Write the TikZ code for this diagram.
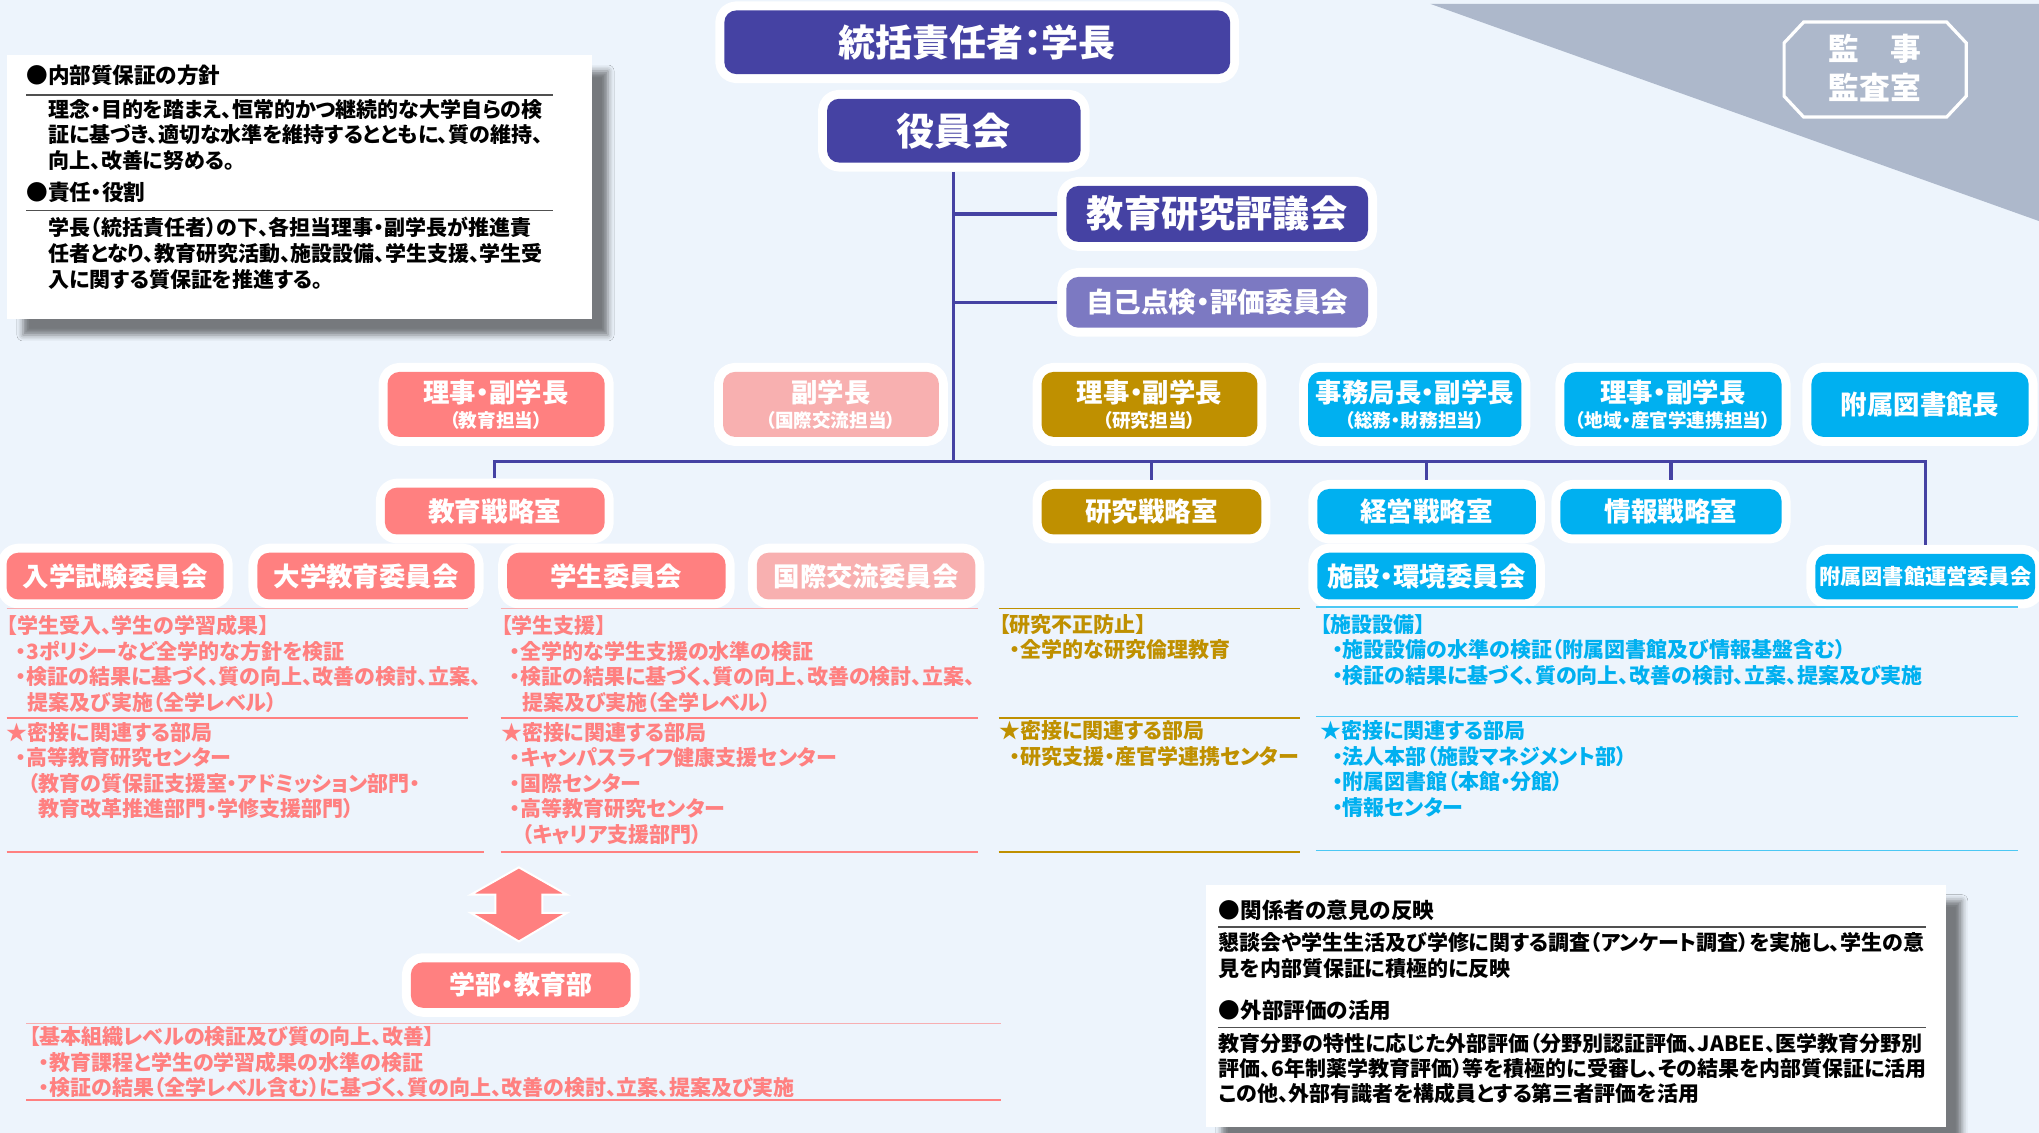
\documentclass[tikz,border=0pt]{standalone}
\usepackage{fontspec}
\setmainfont{Noto Sans CJK JP}[RawFeature=+palt]
\usetikzlibrary{shadows.blur}
\definecolor{bgc}{HTML}{EDF4FC}
\definecolor{purp}{HTML}{4542A3}
\definecolor{lpurp}{HTML}{7C79C2}
\definecolor{salm}{HTML}{FF8080}
\definecolor{lpink}{HTML}{F8B0B0}
\definecolor{goldc}{HTML}{BF9000}
\definecolor{cyanc}{HTML}{00B0F0}
\definecolor{tric}{HTML}{ADB8CB}
\definecolor{rulec}{HTML}{505050}
\newcommand\fsz[2]{\fontsize{#1}{#2}\selectfont\bfseries}
\newcommand\fBody{\fsz{10.5}{12.8}}
\newcommand\fHead{\fsz{10.8}{13}}
\newcommand\fRight{\fsz{10.5}{12.7}}
\tikzset{
  sz/.style 2 args={minimum width=#1*0.6502pt, minimum height=#2*0.6502pt},
  glowbox/.style={rounded corners=6pt, inner sep=0pt, text=white, align=center,
    preaction={draw=white, line width=9pt, line join=round}},
  pbox/.style={glowbox, fill=purp},
  lpbox/.style={glowbox, fill=lpurp},
  sbox/.style={glowbox, fill=salm},
  lsbox/.style={glowbox, fill=lpink},
  gbox/.style={glowbox, fill=goldc},
  cbox/.style={glowbox, fill=cyanc},
  infobox/.style={fill=white, inner sep=0pt, anchor=north west,
    blur shadow={shadow xshift=8pt, shadow yshift=-8pt, shadow blur radius=3pt, shadow opacity=50}},
  txt/.style={anchor=north west, inner sep=0pt, align=left},
  conn/.style={draw=purp, line width=1.6pt},
  hrule/.style={draw=rulec, line width=0.8pt},
  srule/.style={draw=salm, line width=0.8pt},
  grule/.style={draw=goldc, line width=0.8pt},
  crule/.style={draw=cyanc!70, line width=0.8pt},
  twoline/.style={font=\fsz{9.3}{12.4}}
}
\begin{document}
\begin{tikzpicture}[x=0.6502pt, y=-0.6502pt]
\useasboundingbox (0,0) rectangle (1568,871);
\fill[bgc] (0,0) rectangle (1568,871);
\fill[tric] (1100,3) -- (1568,3) -- (1568,170) -- cycle;

% auditor
\draw[white, line width=1.6pt] (1387,17) -- (1497,17) -- (1512,33) -- (1512,74) -- (1497,90) -- (1387,90) -- (1372,74) -- (1372,33) -- cycle;
\node[inner sep=0pt, text=white, align=center, font=\fsz{15.4}{19.5}] (kanji) at (1442,52) {監　事\\監査室};

% info box left
\node[infobox, sz={450}{203}] (pol) at (5,42) {};
\node[txt, font=\fHead] (h1) at (20,49.7) {●内部質保証の方針};
\draw[hrule] (20,73) -- (425,73);
\node[txt, font=\fBody] (p1) at (37,76) {理念・目的を踏まえ、恒常的かつ継続的な大学自らの検\\証に基づき、適切な水準を維持するとともに、質の維持、\\向上、改善に努める。};
\node[txt, font=\fHead] (h2) at (20,139.7) {●責任・役割};
\draw[hrule] (20,162) -- (425,162);
\node[txt, font=\fBody] (p2) at (37,167) {学長（統括責任者）の下、各担当理事・副学長が推進責\\任者となり、教育研究活動、施設設備、学生支援、学生受\\入に関する質保証を推進する。};

% top hierarchy
\node[pbox, sz={389}{49}, font=\fsz{18.5}{22}] (top) at (751.5,32.5) {統括責任者：学長};
\node[pbox, sz={195}{49}, font=\fsz{19}{22}] (yakuin) at (733.5,100.5) {役員会};
\node[pbox, sz={232}{43}, font=\fsz{18.6}{22}] (hyogi) at (936,164.5) {教育研究評議会};
\node[lpbox, sz={232}{39}, font=\fsz{13.8}{16}] (jiko) at (936,232.5) {自己点検・評価委員会};

% row 2
\node[sbox, sz={167}{50}, twoline] (r2a) at (381.5,311) {{\fsz{13.2}{15}理事・副学長}\\（教育担当）};
\node[lsbox, sz={166}{50}, twoline] (r2b) at (639,311) {{\fsz{13.2}{15}副学長}\\（国際交流担当）};
\node[gbox, sz={166}{50}, twoline] (r2c) at (884,311) {{\fsz{13.2}{15}理事・副学長}\\（研究担当）};
\node[cbox, sz={164}{50}, twoline] (r2d) at (1088,311) {{\fsz{13.2}{15}事務局長・副学長}\\（総務・財務担当）};
\node[cbox, sz={167}{50}, twoline] (r2e) at (1286.5,311) {{\fsz{13.2}{15}理事・副学長}\\（地域・産官学連携担当）};
\node[cbox, sz={167}{50}, font=\fsz{13.2}{15}] (r2f) at (1476.5,311) {附属図書館長};

% row 3
\node[sbox, sz={169}{36}, font=\fsz{13.3}{15}] (r3a) at (380.5,393) {教育戦略室};
\node[gbox, sz={169}{35}, font=\fsz{13.3}{15}] (r3b) at (885.5,393.5) {研究戦略室};
\node[cbox, sz={168}{35}, font=\fsz{13.3}{15}] (r3c) at (1097,393.5) {経営戦略室};
\node[cbox, sz={170}{35}, font=\fsz{13.3}{15}] (r3d) at (1285,393.5) {情報戦略室};

% row 4
\node[sbox, sz={167}{36}, font=\fsz{13.2}{15}] (r4a) at (88.5,443) {入学試験委員会};
\node[sbox, sz={167}{36}, font=\fsz{13.2}{15}] (r4b) at (281.5,443) {大学教育委員会};
\node[sbox, sz={168}{36}, font=\fsz{13.2}{15}] (r4c) at (474,443) {学生委員会};
\node[lsbox, sz={168}{36}, font=\fsz{13.2}{15}] (r4d) at (666,443) {国際交流委員会};
\node[cbox, sz={168}{36}, font=\fsz{13.2}{15}] (r4e) at (1097,443) {施設・環境委員会};
\node[cbox, sz={169}{35}, font=\fsz{10.6}{13}] (r4f) at (1480.5,443.5) {附属図書館運営委員会};

% connectors
\coordinate (busL) at (380.5,355);
\coordinate (busR) at (1480.5,355);
\draw[conn, shorten <=4.5pt] (yakuin.south) -- (yakuin.south |- busL);
\draw[conn, shorten >=4.5pt] (yakuin.south |- hyogi.west) -- (hyogi.west);
\draw[conn, shorten >=4.5pt] (yakuin.south |- jiko.west) -- (jiko.west);
\draw[conn, shorten <=4.5pt, shorten >=4.5pt] (r3a.north) -- (busL) -- (busR) -- (r4f.north);
\draw[conn, shorten <=4.5pt] (r3b.north) -- (r3b.north |- busL);
\draw[conn, shorten <=4.5pt] (r3c.north) -- (r3c.north |- busL);
\draw[conn, shorten <=4.5pt] (r3d.north) -- (r3d.north |- busL);

% pink left column
\draw[srule, draw opacity=0.6] (5,468) -- (360,468);
\node[txt, text=salm, font=\fBody] (ta1) at (5,473) {【学生受入、学生の学習成果】\\\hspace*{4.5pt}・3ポリシーなど全学的な方針を検証\\\hspace*{4.5pt}・検証の結果に基づく、質の向上、改善の検討、立案、\\\hspace*{10.5pt}提案及び実施（全学レベル）};
\draw[srule] (5,552) -- (360,552);
\node[txt, text=salm, font=\fBody] (ta2) at (5,555) {★密接に関連する部局\\\hspace*{4.5pt}・高等教育研究センター\\\hspace*{10.5pt}（教育の質保証支援室・アドミッション部門・\\\hspace*{16pt}教育改革推進部門・学修支援部門）};
\draw[srule] (5,655) -- (372,655);

% pink middle column
\draw[srule, draw opacity=0.6] (385,468) -- (752,468);
\node[txt, text=salm, font=\fBody] (tb1) at (385,473) {【学生支援】\\\hspace*{4.5pt}・全学的な学生支援の水準の検証\\\hspace*{4.5pt}・検証の結果に基づく、質の向上、改善の検討、立案、\\\hspace*{10.5pt}提案及び実施（全学レベル）};
\draw[srule] (385,552) -- (752,552);
\node[txt, text=salm, font=\fBody] (tb2) at (385,555) {★密接に関連する部局\\\hspace*{4.5pt}・キャンパスライフ健康支援センター\\\hspace*{4.5pt}・国際センター\\\hspace*{4.5pt}・高等教育研究センター\\\hspace*{10.5pt}（キャリア支援部門）};
\draw[srule] (385,655) -- (752,655);

% gold column
\draw[grule] (768,468) -- (1000,468);
\node[txt, text=goldc, font=\fBody] (tc1) at (768,472) {【研究不正防止】\\\hspace*{5.5pt}・全学的な研究倫理教育};
\draw[grule] (768,552) -- (1000,552);
\node[txt, text=goldc, font=\fBody] (tc2) at (768,554) {★密接に関連する部局\\\hspace*{5.5pt}・研究支援・産官学連携センター};
\draw[grule] (768,655) -- (1000,655);

% cyan column
\draw[crule] (1012,467) -- (1552,467);
\node[txt, text=cyanc, font=\fBody] (td1) at (1015,472) {【施設設備】\\\hspace*{6pt}・施設設備の水準の検証（附属図書館及び情報基盤含む）\\\hspace*{6pt}・検証の結果に基づく、質の向上、改善の検討、立案、提案及び実施};
\draw[crule] (1012,551) -- (1552,551);
\node[txt, text=cyanc, font=\fBody] (td2) at (1015,554) {★密接に関連する部局\\\hspace*{6pt}・法人本部（施設マネジメント部）\\\hspace*{6pt}・附属図書館（本館・分館）\\\hspace*{6pt}・情報センター};
\draw[crule] (1012,654) -- (1552,654);

% double arrow
\fill[salm, draw=white, line width=1pt] (399,667) -- (436,688) -- (417,688) -- (417,702) -- (436,702) -- (399,724) -- (362,702) -- (381,702) -- (381,688) -- (362,688) -- cycle;

% faculties
\node[sbox, sz={169}{35}, font=\fsz{13}{15}] (gakubu) at (400.5,757.5) {学部・教育部};
\draw[srule, draw opacity=0.6] (20,787) -- (770,787);
\node[txt, text=salm, font=\fBody] (te) at (22,789) {【基本組織レベルの検証及び質の向上、改善】\\\hspace*{5pt}・教育課程と学生の学習成果の水準の検証\\\hspace*{5pt}・検証の結果（全学レベル含む）に基づく、質の向上、改善の検討、立案、提案及び実施};
\draw[srule] (20,846) -- (770,846);

% info box right
\node[infobox, sz={569}{186}] (ext) at (927,680) {};
\node[txt, font=\fHead] (h3) at (937,691.7) {●関係者の意見の反映};
\draw[hrule] (937,713) -- (1481,713);
\node[txt, font=\fRight] (p3) at (937,717) {懇談会や学生生活及び学修に関する調査（アンケート調査）を実施し、学生の意\\見を内部質保証に積極的に反映};
\node[txt, font=\fHead] (h4) at (937,769) {●外部評価の活用};
\draw[hrule] (937,790) -- (1481,790);
\node[txt, font=\fRight] (p4) at (937,794) {教育分野の特性に応じた外部評価（分野別認証評価、JABEE、医学教育分野別\\評価、6年制薬学教育評価）等を積極的に受審し、その結果を内部質保証に活用\\この他、外部有識者を構成員とする第三者評価を活用};
\end{tikzpicture}
\end{document}
